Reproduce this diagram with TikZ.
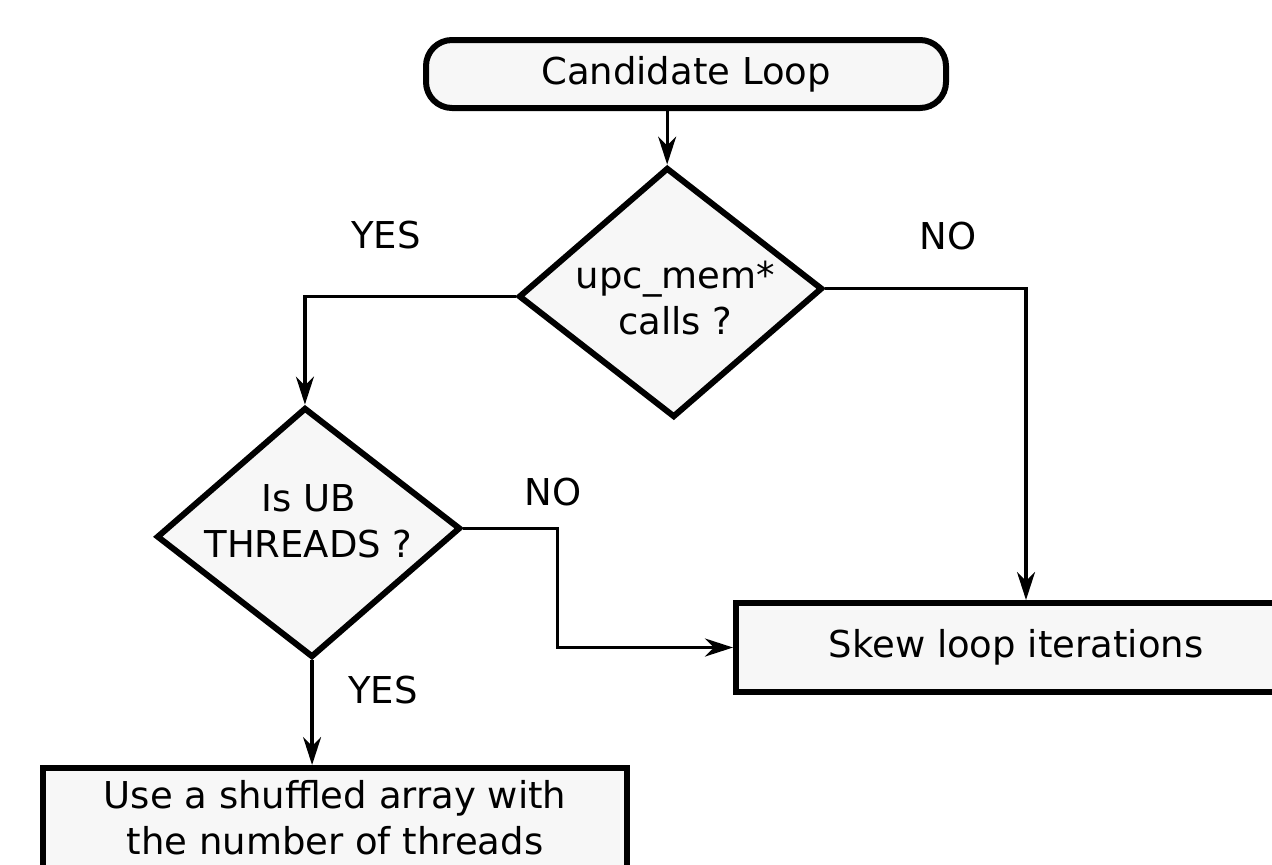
\documentclass[tikz,border=0pt]{standalone}
\usepackage{fontspec}
\setmainfont{DejaVu Sans}
\usetikzlibrary{shapes.geometric,arrows.meta}
\definecolor{boxfill}{HTML}{F7F7F7}
\begin{document}
\begin{tikzpicture}[x=0.5pt,y=-0.5pt,
  every node/.style={font=\fontsize{18.5}{23}\selectfont},
  box/.style={draw, line width=3pt, fill=boxfill, inner sep=0pt, align=center},
  startbox/.style={box, rounded corners=13pt, minimum width=260pt, minimum height=34pt},
  decision/.style={box, diamond, minimum width=152pt, minimum height=125pt},
  dtext/.style={align=center, inner sep=0pt, font=\fontsize{18.5}{23}\selectfont},
  conn/.style={line width=1.6pt, -{Stealth[length=14pt,width=9pt,inset=4.5pt]}},
  lbl/.style={inner sep=0pt}]
\useasboundingbox (0,0) rectangle (1272,864);
\clip (0,0) rectangle (1272,864);
\node[startbox] (cand) at (686,74) {Candidate Loop};
\node[decision, rotate=1.5,
  label={[dtext, xshift=2.5pt, yshift=-3pt]center:{upc\_mem*\\calls ?}}] (d1) at (670.5,292.5) {};
\node[decision, rotate=1.6,
  label={[dtext, yshift=5.75pt]center:{Is UB\\THREADS ?}}] (d2) at (308.5,532.5) {};
\node[box, minimum width=280pt, minimum height=44.5pt] (skew) at (1016,647.5) {Skew loop iterations};
\node[box, minimum width=292pt, minimum height=50pt] (shuf) at (335,818) {Use a shuffled array with\\the number of threads};
\draw[conn] (cand.south -| d1.north) -- (d1.north);
\draw[conn] (d1.west) -| (d2.north);
\draw[conn] (d1.east) -| ([xshift=5pt]skew.north);
\draw[conn] (d2.east) -- ++(94,0) |- (skew.west);
\draw[conn] (d2.south) -- (d2.south |- shuf.north);
\node[lbl] (yes1) at (386,235) {YES};
\node[lbl] (no1) at (948,236) {NO};
\node[lbl] (no2) at (553,492) {NO};
\node[lbl] (yes2) at (383,690) {YES};
\end{tikzpicture}
\end{document}
